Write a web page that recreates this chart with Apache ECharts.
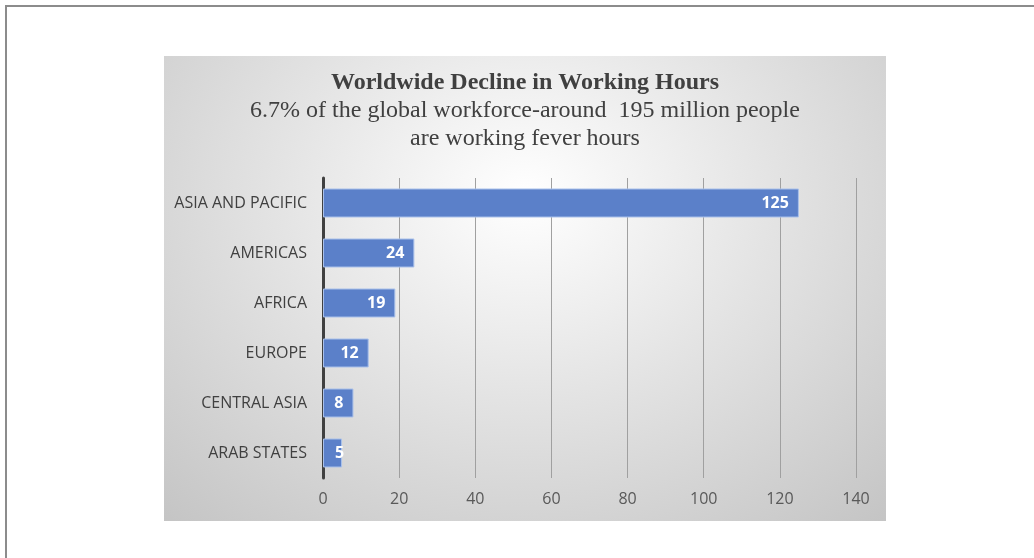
<!DOCTYPE html>
<html>
<head>
<meta charset="utf-8">
<script src="https://cdn.jsdelivr.net/npm/echarts@6/dist/echarts.min.js"></script>
<style>
  html, body { margin: 0; padding: 0; background: #fff; }
  body { width: 1034px; height: 558px; position: relative; overflow: hidden; }
  #frame {
    position: absolute; left: 5px; top: 5px; right: 0; bottom: 0;
    border-top: 2px solid #8c8c8c; border-left: 2px solid #8c8c8c;
  }
  #main {
    position: absolute; left: 164px; top: 56px; width: 722px; height: 465px;
    background: radial-gradient(ellipse 75% 95% at 50% 30%, #ffffff 0%, #e4e4e4 45%, #c4c4c4 100%);
  }
</style>
</head>
<body>
<div id="frame"></div>
<div id="main"></div>
<script>
// regions, listed bottom to top as the category axis draws them
var regions = ['ARAB STATES', 'CENTRAL ASIA', 'EUROPE', 'AFRICA', 'AMERICAS', 'ASIA AND PACIFIC'];
// millions of people working fewer hours
var people = [5, 8, 12, 19, 24, 125];

var chart = echarts.init(document.getElementById('main'), null, { renderer: 'canvas' });

// tiny bars push the label to the bar end, like the original
var barData = people.map(function (v) {
  return v < 6 ? { value: v, label: { distance: -2 } } : v;
});

var option = {
  backgroundColor: 'transparent',
  animation: false,
  title: {
    text: 'Worldwide Decline in Working Hours',
    subtext: '6.7% of the global workforce-around  195 million people\nare working fever hours',
    left: 'center',
    top: 10,
    itemGap: 2,
    textStyle: {
      fontFamily: 'Liberation Serif',
      fontWeight: 'bold',
      fontSize: 24,
      color: '#404040'
    },
    subtextStyle: {
      fontFamily: 'Liberation Serif',
      fontSize: 24,
      lineHeight: 28,
      color: '#404040'
    }
  },
  grid: {
    left: 159,
    right: 30,
    top: 122,
    bottom: 43
  },
  xAxis: {
    type: 'value',
    min: 0,
    max: 140,
    interval: 20,
    axisLine: { show: false },
    axisTick: { show: false },
    axisLabel: {
      margin: 13,
      fontFamily: 'Open Sans',
      fontSize: 16,
      color: '#595959'
    },
    splitLine: {
      lineStyle: { color: '#a0a0a0', width: 1 }
    }
  },
  yAxis: {
    type: 'category',
    data: regions,
    axisLine: {
      lineStyle: { color: '#404040', width: 3 }
    },
    axisTick: { show: false },
    axisLabel: {
      margin: 16,
      fontFamily: 'Open Sans',
      fontSize: 16,
      color: '#404040'
    }
  },
  series: [{
    type: 'bar',
    data: barData,
    barWidth: 29,
    itemStyle: {
      color: '#5b80c9',
      borderColor: '#a9c0ea',
      borderWidth: 1
    },
    label: {
      show: true,
      position: 'insideRight',
      distance: 10,
      fontFamily: 'Open Sans',
      fontWeight: 'bold',
      fontSize: 16,
      color: '#ffffff'
    }
  }]
};

chart.setOption(option);
</script>
</body>
</html>
